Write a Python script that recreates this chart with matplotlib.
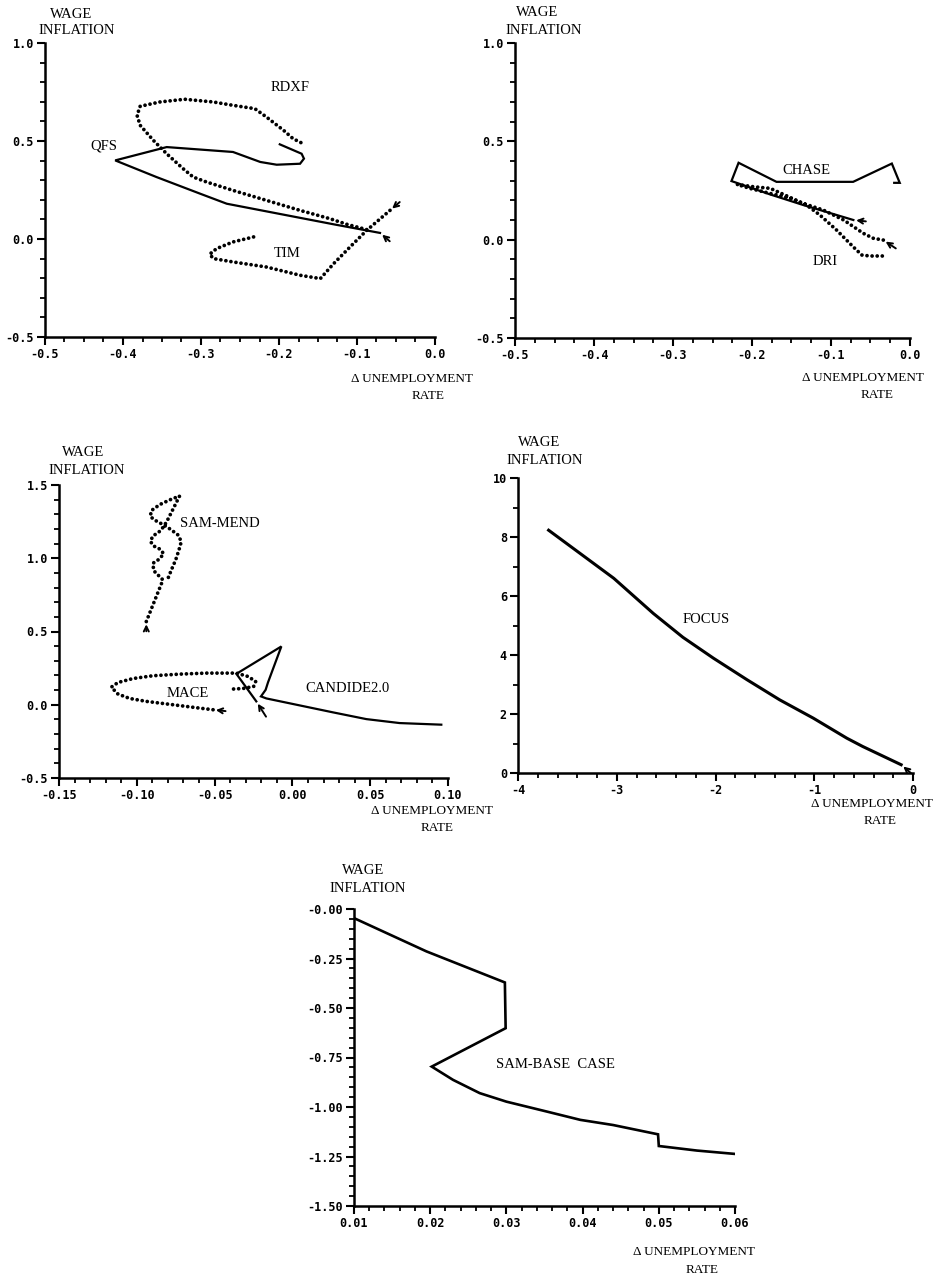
import matplotlib.pyplot as plt
from matplotlib.ticker import MultipleLocator, FixedLocator, FixedFormatter

W, H = 937, 1279

# --- RDXF / QFS / TIM ---
rdxf_x = [-0.0876, -0.113, -0.135, -0.173, -0.216, -0.259, -0.293, -0.310, -0.323, -0.344,
          -0.361, -0.378, -0.382, -0.378, -0.353, -0.321, -0.284, -0.259, -0.231, -0.216,
          -0.194, -0.182, -0.171]
rdxf_y = [0.048, 0.075, 0.104, 0.146, 0.197, 0.248, 0.291, 0.316, 0.359, 0.435,
          0.503, 0.580, 0.631, 0.677, 0.699, 0.713, 0.699, 0.682, 0.665, 0.622,
          0.554, 0.512, 0.490]
tim_x = [-0.0577, -0.0876, -0.109, -0.130, -0.147, -0.173, -0.216, -0.259, -0.284, -0.289,
         -0.280, -0.259, -0.229]
tim_y = [0.146, 0.044, -0.041, -0.126, -0.202, -0.185, -0.143, -0.117, -0.100, -0.078,
         -0.049, -0.015, 0.014]
qfs_x = [-0.0705, -0.130, -0.190, -0.267, -0.301, -0.357, -0.410, -0.344, -0.259, -0.224,
         -0.203, -0.173, -0.168, -0.171, -0.199]
qfs_y = [0.031, 0.075, 0.121, 0.180, 0.231, 0.316, 0.401, 0.469, 0.444, 0.393,
         0.379, 0.384, 0.410, 0.435, 0.483]

# --- CHASE / DRI ---
chase_x = [-0.0717, -0.135, -0.177, -0.226, -0.217, -0.169, -0.072, -0.023, -0.013, -0.020]
chase_y = [0.100, 0.176, 0.230, 0.298, 0.391, 0.294, 0.294, 0.387, 0.289, 0.289]
dri_x = [-0.0338, -0.0464, -0.059, -0.084, -0.110, -0.135, -0.160, -0.177, -0.198, -0.219,
         -0.203, -0.177, -0.152, -0.131, -0.114, -0.093, -0.072, -0.061, -0.051, -0.034]
dri_y = [-0.002, 0.007, 0.032, 0.100, 0.151, 0.184, 0.230, 0.261, 0.269, 0.281,
         0.261, 0.235, 0.210, 0.176, 0.125, 0.049, -0.036, -0.078, -0.083, -0.083]

# --- SAM-MEND / MACE / CANDIDE2.0 ---
sammend_x = [-0.0939, -0.0832, -0.0892, -0.0896, -0.0857, -0.0827, -0.0849, -0.0892, -0.0913,
             -0.0896, -0.0857, -0.0827, -0.0800, -0.0772, -0.0725, -0.0789, -0.0853, -0.0907,
             -0.0913, -0.0879, -0.0832, -0.0784, -0.0735, -0.0714, -0.0729, -0.0750, -0.0778,
             -0.0799]
sammend_y = [0.568, 0.852, 0.916, 0.966, 0.993, 1.030, 1.061, 1.084, 1.116,
             1.152, 1.180, 1.216, 1.266, 1.325, 1.425, 1.398, 1.366, 1.325,
             1.284, 1.257, 1.230, 1.198, 1.159, 1.114, 1.057, 0.989, 0.920,
             0.864]
mace_x = [-0.0510, -0.0596, -0.0767, -0.0939, -0.1046, -0.1121, -0.1164, -0.1121, -0.1024,
          -0.0896, -0.0724, -0.0553, -0.0360, -0.0285, -0.0236, -0.0249, -0.0317, -0.0386]
mace_y = [-0.034, -0.023, 0.000, 0.023, 0.043, 0.073, 0.120, 0.152, 0.179,
          0.198, 0.209, 0.216, 0.216, 0.193, 0.159, 0.125, 0.111, 0.107]
candide_x = [-0.0232, -0.0360, -0.0071, -0.0157, -0.0172, -0.0202, -0.0167, 0.0261, 0.0475,
             0.0689, 0.0957]
candide_y = [0.023, 0.211, 0.398, 0.152, 0.102, 0.057, 0.043, -0.052, -0.098,
             -0.125, -0.136]

# --- FOCUS ---
focus_x = [-0.12, -0.51, -0.67, -1.01, -1.35, -1.68, -2.02, -2.33, -2.63, -3.03, -3.37, -3.69]
focus_y = [0.28, 0.90, 1.18, 1.86, 2.48, 3.16, 3.89, 4.60, 5.41, 6.60, 7.44, 8.23]

# --- SAM-BASE CASE ---
sambase_x = [0.0100, 0.0195, 0.0298, 0.0299, 0.0202, 0.0230, 0.0265, 0.0300, 0.0353,
             0.0397, 0.0440, 0.0499, 0.0500, 0.0550, 0.0600]
sambase_y = [-0.046, -0.214, -0.371, -0.602, -0.796, -0.863, -0.930, -0.973, -1.023,
             -1.065, -1.091, -1.138, -1.197, -1.220, -1.237]

TICK_FONT = dict(family='DejaVu Sans Mono', weight='bold', size=8.5)
LABEL_FONT = dict(family='Liberation Serif', size=10.5)
XTITLE_FONT = dict(family='Liberation Serif', size=9.5)


def px_axes(fig, left, top, right, bottom):
    return fig.add_axes([left / W, 1 - bottom / H, (right - left) / W, (bottom - top) / H])


def style(ax, xlim, ylim, xmajor, xminor, ymajor, yminor, xlabels, ylabels):
    ax.set_xlim(*xlim)
    ax.set_ylim(*ylim)
    for s in ('top', 'right'):
        ax.spines[s].set_visible(False)
    for s in ('left', 'bottom'):
        ax.spines[s].set_linewidth(1.8)
    ax.xaxis.set_major_locator(FixedLocator(xmajor))
    ax.xaxis.set_major_formatter(FixedFormatter(xlabels))
    ax.yaxis.set_major_locator(FixedLocator(ymajor))
    ax.yaxis.set_major_formatter(FixedFormatter(ylabels))
    ax.xaxis.set_minor_locator(MultipleLocator(xminor))
    ax.yaxis.set_minor_locator(MultipleLocator(yminor))
    ax.tick_params(which='major', direction='out', length=6, width=1.5, pad=2)
    ax.tick_params(which='minor', direction='out', length=3.5, width=1.3)
    for t in ax.get_xticklabels() + ax.get_yticklabels():
        t.set_fontproperties(TICK_FONT)
    ax.patch.set_alpha(0)


def solid(ax, x, y, lw=1.6):
    ax.plot(x, y, color='black', lw=lw, solid_joinstyle='miter')


def dotted(ax, x, y):
    ax.plot(x, y, color='black', lw=2.7, linestyle=(0, (0.01, 1.35)),
            dash_capstyle='round')


def arrow(ax, x, y, dx, dy):
    ax.annotate('', xy=(x, y), xytext=(dx, dy), textcoords='offset points',
                arrowprops=dict(arrowstyle='->', lw=1.4, color='black',
                                shrinkA=0, shrinkB=2, mutation_scale=9))


def ftext(fig, px, py, s, font=LABEL_FONT):
    fig.text(px / W, 1 - py / H, s, ha='center', va='center', **font)


def axis_titles(fig, wage, infl, delta, rate):
    ftext(fig, *wage, 'WAGE')
    ftext(fig, *infl, 'INFLATION')
    ftext(fig, *delta, '\u0394 UNEMPLOYMENT', XTITLE_FONT)
    ftext(fig, *rate, 'RATE', XTITLE_FONT)


fig = plt.figure(figsize=(W / 100, H / 100), dpi=100)
fig.patch.set_facecolor('white')

# top left
ax1 = px_axes(fig, 45, 43, 435, 337)
style(ax1, (-0.5, 0.0), (-0.5, 1.0), [-0.5, -0.4, -0.3, -0.2, -0.1, 0.0], 0.025,
      [-0.5, 0.0, 0.5, 1.0], 0.1,
      ['-0.5', '-0.4', '-0.3', '-0.2', '-0.1', '0.0'], ['-0.5', '0.0', '0.5', '1.0'])
dotted(ax1, rdxf_x, rdxf_y)
dotted(ax1, tim_x, tim_y)
solid(ax1, qfs_x, qfs_y)
arrow(ax1, tim_x[0], tim_y[0], 7, 6)
arrow(ax1, qfs_x[0], qfs_y[0], 7, -6)
ax1.text(-0.186, 0.772, 'RDXF', ha='center', va='center', **LABEL_FONT)
ax1.text(-0.425, 0.474, 'QFS', ha='center', va='center', **LABEL_FONT)
ax1.text(-0.190, -0.075, 'TIM', ha='center', va='center', **LABEL_FONT)
axis_titles(fig, (71, 15), (77, 31), (412, 379), (428, 396))

# top right
ax2 = px_axes(fig, 515, 43, 910, 338)
style(ax2, (-0.5, 0.0), (-0.5, 1.0), [-0.5, -0.4, -0.3, -0.2, -0.1, 0.0], 0.025,
      [-0.5, 0.0, 0.5, 1.0], 0.1,
      ['-0.5', '-0.4', '-0.3', '-0.2', '-0.1', '0.0'], ['-0.5', '0.0', '0.5', '1.0'])
solid(ax2, chase_x, chase_y)
dotted(ax2, dri_x, dri_y)
arrow(ax2, chase_x[0], chase_y[0], 9, -1)
arrow(ax2, dri_x[0], dri_y[0], 9, -6)
ax2.text(-0.131, 0.350, 'CHASE', ha='center', va='center', **LABEL_FONT)
ax2.text(-0.108, -0.112, 'DRI', ha='center', va='center', **LABEL_FONT)
axis_titles(fig, (537, 12), (544, 30), (863, 378), (877, 395))

# middle left
ax3 = px_axes(fig, 59, 485, 448, 778)
style(ax3, (-0.15, 0.10), (-0.5, 1.5), [-0.15, -0.10, -0.05, 0.0, 0.05, 0.10], 0.01,
      [-0.5, 0.0, 0.5, 1.0, 1.5], 0.1,
      ['-0.15', '-0.10', '-0.05', '0.00', '0.05', '0.10'],
      ['-0.5', '0.0', '0.5', '1.0', '1.5'])
dotted(ax3, sammend_x, sammend_y)
dotted(ax3, mace_x, mace_y)
solid(ax3, candide_x, candide_y)
arrow(ax3, sammend_x[0], sammend_y[0], 0, -7)
arrow(ax3, mace_x[0], mace_y[0], 9, -1)
arrow(ax3, candide_x[0], candide_y[0], 7, -11)
ax3.text(-0.0725, 1.239, 'SAM-MEND', ha='left', va='center', **LABEL_FONT)
ax3.text(-0.067, 0.080, 'MACE', ha='center', va='center', **LABEL_FONT)
ax3.text(0.0357, 0.114, 'CANDIDE2.0', ha='center', va='center', **LABEL_FONT)
axis_titles(fig, (83, 453), (87, 471), (432, 811), (437, 828))

# middle right
ax4 = px_axes(fig, 518, 478, 913, 773)
style(ax4, (-4, 0), (0, 10), [-4, -3, -2, -1, 0], 0.2,
      [0, 2, 4, 6, 8, 10], 1,
      ['-4', '-3', '-2', '-1', '0'], ['0', '2', '4', '6', '8', '10'])
solid(ax4, focus_x, focus_y, lw=2.2)
arrow(ax4, focus_x[0], focus_y[0], 7, -6)
ax4.text(-2.09, 5.21, 'FOCUS', ha='center', va='center', **LABEL_FONT)
axis_titles(fig, (539, 442), (545, 461), (872, 804), (880, 821))

# bottom
ax5 = px_axes(fig, 354, 909, 735, 1206)
style(ax5, (0.01, 0.06), (-1.5, 0.0), [0.01, 0.02, 0.03, 0.04, 0.05, 0.06], 0.002,
      [-1.5, -1.25, -1.0, -0.75, -0.5, -0.25, 0.0], 0.05,
      ['0.01', '0.02', '0.03', '0.04', '0.05', '0.06'],
      ['-1.50', '-1.25', '-1.00', '-0.75', '-0.50', '-0.25', '-0.00'])
solid(ax5, sambase_x, sambase_y, lw=1.9)
ax5.text(0.0364, -0.787, 'SAM-BASE  CASE', ha='center', va='center', **LABEL_FONT)
axis_titles(fig, (363, 870), (368, 888), (694, 1252), (702, 1270))

fig.savefig('out.png', dpi=100)
